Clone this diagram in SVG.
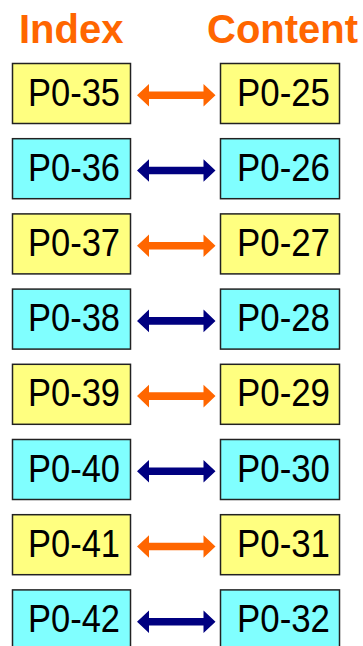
<svg xmlns="http://www.w3.org/2000/svg" width="363" height="646" viewBox="0 0 363 646">
<style>
.hdr{font-family:"Liberation Sans",Arial,sans-serif;font-weight:bold;font-size:40px;fill:#FF6600}
.box rect{stroke:#222;stroke-width:1.5}
.y rect{fill:#FFFF80}
.c rect{fill:#80FFFF}
.box text{font-family:"Liberation Sans",Arial,sans-serif;font-size:38px;fill:#000}
.ao{fill:#FF6600}
.ab{fill:#000080}
</style>
<defs>
<polygon id="arr" points="137,0 149,-11.3 149,-3.8 203.5,-3.8 203.5,-11.3 215.5,0 203.5,11.3 203.5,3.8 149,3.8 149,11.3"/>
</defs>
<text class="hdr" x="19" y="43">Index</text>
<text class="hdr" x="207" y="43">Content</text>
<g id="connectors">
<use href="#arr" class="ao" y="95.3"/>
<use href="#arr" class="ab" y="170.5"/>
<use href="#arr" class="ao" y="245.7"/>
<use href="#arr" class="ab" y="320.9"/>
<use href="#arr" class="ao" y="396.1"/>
<use href="#arr" class="ab" y="471.3"/>
<use href="#arr" class="ao" y="546.5"/>
<use href="#arr" class="ab" y="621.7"/>
</g>
<g id="i35" class="box y"><rect x="12.5" y="63.5" width="118" height="60"/><text x="28" y="105.5" textLength="92" lengthAdjust="spacingAndGlyphs">P0-35</text></g>
<g id="c25" class="box y"><rect x="220.5" y="63.5" width="119" height="60"/><text x="237" y="105.5" textLength="93" lengthAdjust="spacingAndGlyphs">P0-25</text></g>
<g id="i36" class="box c"><rect x="12.5" y="138.7" width="118" height="60"/><text x="28" y="180.7" textLength="92" lengthAdjust="spacingAndGlyphs">P0-36</text></g>
<g id="c26" class="box c"><rect x="220.5" y="138.7" width="119" height="60"/><text x="237" y="180.7" textLength="93" lengthAdjust="spacingAndGlyphs">P0-26</text></g>
<g id="i37" class="box y"><rect x="12.5" y="213.9" width="118" height="60"/><text x="28" y="255.9" textLength="92" lengthAdjust="spacingAndGlyphs">P0-37</text></g>
<g id="c27" class="box y"><rect x="220.5" y="213.9" width="119" height="60"/><text x="237" y="255.9" textLength="93" lengthAdjust="spacingAndGlyphs">P0-27</text></g>
<g id="i38" class="box c"><rect x="12.5" y="289.1" width="118" height="60"/><text x="28" y="331.1" textLength="92" lengthAdjust="spacingAndGlyphs">P0-38</text></g>
<g id="c28" class="box c"><rect x="220.5" y="289.1" width="119" height="60"/><text x="237" y="331.1" textLength="93" lengthAdjust="spacingAndGlyphs">P0-28</text></g>
<g id="i39" class="box y"><rect x="12.5" y="364.3" width="118" height="60"/><text x="28" y="406.3" textLength="92" lengthAdjust="spacingAndGlyphs">P0-39</text></g>
<g id="c29" class="box y"><rect x="220.5" y="364.3" width="119" height="60"/><text x="237" y="406.3" textLength="93" lengthAdjust="spacingAndGlyphs">P0-29</text></g>
<g id="i40" class="box c"><rect x="12.5" y="439.5" width="118" height="60"/><text x="28" y="481.5" textLength="92" lengthAdjust="spacingAndGlyphs">P0-40</text></g>
<g id="c30" class="box c"><rect x="220.5" y="439.5" width="119" height="60"/><text x="237" y="481.5" textLength="93" lengthAdjust="spacingAndGlyphs">P0-30</text></g>
<g id="i41" class="box y"><rect x="12.5" y="514.7" width="118" height="60"/><text x="28" y="556.7" textLength="92" lengthAdjust="spacingAndGlyphs">P0-41</text></g>
<g id="c31" class="box y"><rect x="220.5" y="514.7" width="119" height="60"/><text x="237" y="556.7" textLength="93" lengthAdjust="spacingAndGlyphs">P0-31</text></g>
<g id="i42" class="box c"><rect x="12.5" y="589.9" width="118" height="60"/><text x="28" y="631.9" textLength="92" lengthAdjust="spacingAndGlyphs">P0-42</text></g>
<g id="c32" class="box c"><rect x="220.5" y="589.9" width="119" height="60"/><text x="237" y="631.9" textLength="93" lengthAdjust="spacingAndGlyphs">P0-32</text></g>
</svg>
